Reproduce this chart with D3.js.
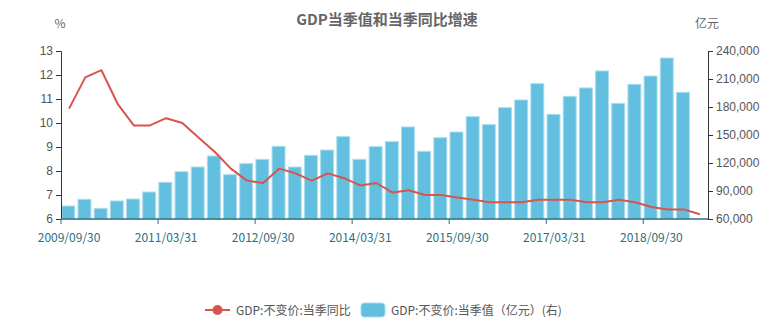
<!DOCTYPE html>
<html><head><meta charset="utf-8">
<script src="https://cdn.jsdelivr.net/npm/d3@7/dist/d3.min.js"></script>
<style>
body{margin:0;background:#fff;}
svg{display:block;font-family:"Microsoft YaHei","Noto Sans CJK SC","Noto Sans",sans-serif;}
</style></head>
<body><svg id="c" width="765" height="331"></svg>
<script>
const categories = ["2009/09/30","2009/12/31","2010/03/31","2010/06/30","2010/09/30","2010/12/31",
"2011/03/31","2011/06/30","2011/09/30","2011/12/31","2012/03/31","2012/06/30",
"2012/09/30","2012/12/31","2013/03/31","2013/06/30","2013/09/30","2013/12/31",
"2014/03/31","2014/06/30","2014/09/30","2014/12/31","2015/03/31","2015/06/30",
"2015/09/30","2015/12/31","2016/03/31","2016/06/30","2016/09/30","2016/12/31",
"2017/03/31","2017/06/30","2017/09/30","2017/12/31","2018/03/31","2018/06/30",
"2018/09/30","2018/12/31","2019/03/31","2019/06/30"];
const growth = [10.6,11.9,12.2,10.8,9.9,9.9,10.2,10.0,9.4,8.8,8.1,7.6,7.5,8.1,7.9,7.6,7.9,7.7,
7.4,7.5,7.1,7.2,7.0,7.0,6.9,6.8,6.7,6.7,6.7,6.8,6.8,6.8,6.7,6.7,6.8,6.7,6.5,6.4,6.4,6.2];
const gdpValue = [73900,81100,71400,79300,81400,88900,99300,110700,115700,127500,107500,119300,
123900,137900,115700,128200,133900,148200,123900,137500,142900,158600,132500,147100,
153200,169600,161100,179300,187500,205000,172100,191400,200400,218600,183900,204300,
213200,232500,195700,null];
const leftTicks = [6,7,8,9,10,11,12,13];
const rightTicks = [60000,90000,120000,150000,180000,210000,240000];
const xTickLabels = ["2009/09/30","2011/03/31","2012/09/30","2014/03/31","2015/09/30","2017/03/31","2018/09/30"];
const titleText = "GDP当季值和当季同比增速";
const lineName = "GDP:不变价:当季同比";
const barName = "GDP:不变价:当季值（亿元）(右)";

const svg = d3.select("#c");
const L = 61, R = 708, T = 51, B = 219;
const lineColor = "#d9534f", barColor = "#62bfdf", barStroke = "#a9ddef";
const axisTeal = "#2b6f7e";

const x = d3.scaleBand().domain(categories).range([L, R]).paddingInner(0).paddingOuter(0);
const yL = d3.scaleLinear().domain([6, 13]).range([B, T]);
const yR = d3.scaleLinear().domain([60000, 240000]).range([B, T]);

// title
svg.append("text").attr("x", 387).attr("y", 25).attr("text-anchor", "middle")
  .attr("font-size", 15).attr("font-weight", "bold").attr("fill", "#666").text(titleText);
svg.append("text").attr("x", 60).attr("y", 28).attr("text-anchor", "middle")
  .attr("font-size", 12).attr("fill", "#666").text("%");
svg.append("text").attr("x", 707).attr("y", 28).attr("text-anchor", "middle")
  .attr("font-size", 12).attr("fill", "#666").text("亿元");

// bars
const bw = x.bandwidth();
svg.append("g").selectAll("rect").data(gdpValue.map((v,i)=>({v, c: categories[i]})).filter(d=>d.v!=null))
  .join("rect")
  .attr("x", d => x(d.c) + bw*0.05)
  .attr("width", bw*0.8)
  .attr("y", d => yR(d.v))
  .attr("height", d => B - yR(d.v))
  .attr("fill", barColor).attr("stroke", barStroke).attr("stroke-width", 1);

// line
const line = d3.line().x((d,i)=>x(categories[i]) + bw/2).y(d=>yL(d));
svg.append("path").datum(growth).attr("d", line).attr("fill", "none")
  .attr("stroke", lineColor).attr("stroke-width", 2).attr("stroke-linejoin", "round");

// left axis
const gl = svg.append("g").attr("transform", `translate(${L},0)`)
  .call(d3.axisLeft(yL).tickValues(leftTicks).tickSize(5).tickPadding(3).tickFormat(d3.format("d")));
gl.select(".domain").attr("stroke", "#333");
gl.selectAll(".tick line").attr("stroke", "#333");
gl.selectAll("text").attr("fill", "#555").attr("font-size", 12).attr("font-family", null);

// right axis
const gr = svg.append("g").attr("transform", `translate(${R},0)`)
  .call(d3.axisRight(yR).tickValues(rightTicks).tickSize(5).tickPadding(3).tickFormat(d3.format(",")));
gr.select(".domain").attr("stroke", "#333");
gr.selectAll(".tick line").attr("stroke", "#333");
gr.selectAll("text").attr("fill", "#555").attr("font-size", 12).attr("font-family", null);

// bottom axis
const gb = svg.append("g").attr("transform", `translate(0,${B})`);
gb.append("line").attr("x1", L).attr("x2", R).attr("stroke", axisTeal).attr("stroke-width", 1.5);
gb.selectAll("line.t").data(xTickLabels).join("line").attr("class","t")
  .attr("x1", d=>x(d)).attr("x2", d=>x(d)).attr("y1", 0).attr("y2", 5).attr("stroke", axisTeal);
gb.selectAll("text").data(xTickLabels).join("text")
  .attr("x", d=>x(d)+bw/2).attr("y", 23).attr("text-anchor","middle")
  .attr("font-size", 12).attr("fill", axisTeal).text(d=>d);

// legend
const lg = svg.append("g").attr("transform", "translate(0,310)");
lg.append("line").attr("x1", 205).attr("x2", 230).attr("y1", 0).attr("y2", 0).attr("stroke", lineColor).attr("stroke-width", 2);
lg.append("circle").attr("cx", 217.5).attr("cy", 0).attr("r", 5).attr("fill", lineColor);
lg.append("text").attr("x", 236).attr("y", 4.5).attr("font-size", 12).attr("fill", "#555").text(lineName);
lg.append("rect").attr("x", 361).attr("y", -7).attr("width", 24).attr("height", 14).attr("rx", 3)
  .attr("fill", barColor).attr("stroke", barStroke);
lg.append("text").attr("x", 391).attr("y", 4.5).attr("font-size", 12).attr("fill", "#555").text(barName);
</script></body></html>
